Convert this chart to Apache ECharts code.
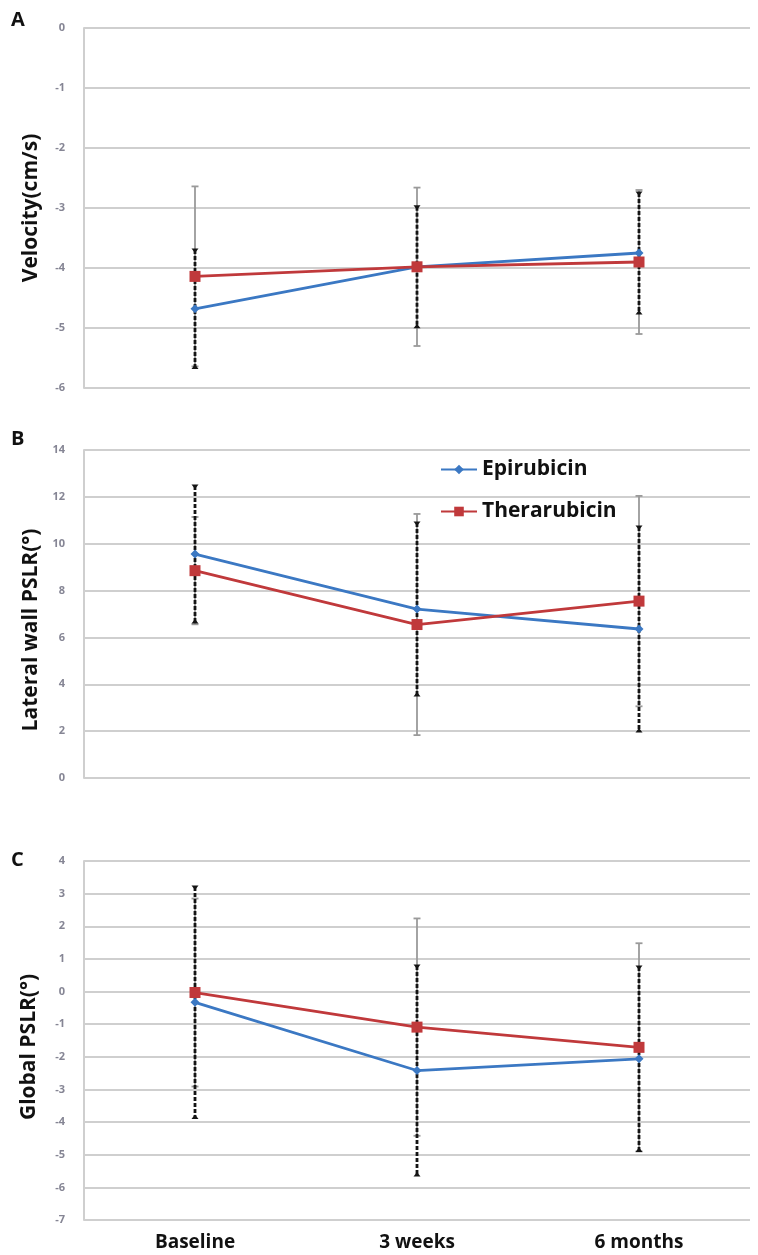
<!DOCTYPE html>
<html>
<head>
<meta charset="utf-8">
<script src="https://cdn.jsdelivr.net/npm/echarts@6/dist/echarts.min.js"></script>
<style>
html,body{margin:0;padding:0;background:#fff;}
#chart{width:758px;height:1255px;}
</style>
</head>
<body>
<div id="chart"></div>
<script>
// ---------- data ----------
const categories = ['Baseline', '3 weeks', '6 months'];
const seriesNames = ['Epirubicin', 'Therarubicin'];
const panelLetters = ['A', 'B', 'C'];
const yNames = ['Velocity(cm/s)', 'Lateral wall PSLR(°)', 'Global PSLR(°)'];

// Panel A: Velocity (cm/s)  [min, max, interval]
const velTicks = [-6, 0, 1];
const velEpi = [-4.68, -3.98, -3.75];
const velEpiSD = [0.98, 1.00, 1.00];
const velThe = [-4.14, -3.98, -3.90];
const velTheSD = [1.50, 1.32, 1.20];

// Panel B: Lateral wall PSLR (°)
const latTicks = [0, 14, 2];
const latEpi = [9.56, 7.21, 6.36];
const latEpiSD = [2.90, 3.67, 4.35];
const latThe = [8.85, 6.55, 7.55];
const latTheSD = [2.29, 4.72, 4.49];

// Panel C: Global PSLR (°)
const gloTicks = [-7, 4, 1];
const gloEpi = [-0.33, -2.42, -2.06];
const gloEpiSD = [3.53, 3.20, 2.81];
const gloThe = [-0.03, -1.09, -1.71];
const gloTheSD = [2.88, 3.33, 3.19];

// ---------- rendering ----------
const FONT = '"Open Sans"';
const BLUE = '#3b78c3';
const RED = '#c0393b';
const GRID_COLOR = '#cfcfcf';

const chart = echarts.init(document.getElementById('chart'), null, {renderer: 'canvas'});

function errData(mean, sd) {
  return mean.map((m, i) => [i, m - sd[i], m + sd[i]]);
}

function greyBar(params, api) {
  const x = api.value(0);
  const lo = api.coord([x, api.value(1)]);
  const hi = api.coord([x, api.value(2)]);
  const c = '#9a9a9a';
  return {
    type: 'group',
    children: [
      {type: 'line', shape: {x1: hi[0], y1: hi[1], x2: lo[0], y2: lo[1]}, style: {stroke: c, lineWidth: 1.8}},
      {type: 'line', shape: {x1: hi[0] - 3.5, y1: hi[1], x2: hi[0] + 3.5, y2: hi[1]}, style: {stroke: c, lineWidth: 1.8}},
      {type: 'line', shape: {x1: lo[0] - 3.5, y1: lo[1], x2: lo[0] + 3.5, y2: lo[1]}, style: {stroke: c, lineWidth: 1.8}}
    ]
  };
}

function blackBar(params, api) {
  const x = api.value(0);
  const lo = api.coord([x, api.value(1)]);
  const hi = api.coord([x, api.value(2)]);
  const c = '#141414';
  return {
    type: 'group',
    children: [
      {type: 'line', shape: {x1: hi[0], y1: hi[1], x2: lo[0], y2: lo[1]}, style: {stroke: c, lineWidth: 2.8, lineDash: [4, 2]}},
      {type: 'polygon', shape: {points: [[hi[0] - 3.5, hi[1] - 1.5], [hi[0] + 3.5, hi[1] - 1.5], [hi[0], hi[1] + 3]]}, style: {fill: c}},
      {type: 'polygon', shape: {points: [[lo[0] - 3.5, lo[1] + 1.5], [lo[0] + 3.5, lo[1] + 1.5], [lo[0], lo[1] - 3]]}, style: {fill: c}}
    ]
  };
}

const grids = [
  {left: 84, top: 28, width: 666, height: 360},
  {left: 84, top: 450, width: 666, height: 328},
  {left: 84, top: 861, width: 666, height: 359}
];

const yTicks = [velTicks, latTicks, gloTicks];
const yNamePos = [[31, 208], [31, 630], [29, 1047]];
const letterPos = [[11, 10], [11, 429], [11, 850]];

const xAxes = grids.map((g, i) => ({
  type: 'category',
  gridIndex: i,
  data: categories,
  boundaryGap: true,
  axisLine: {show: false},
  axisTick: {show: false},
  axisLabel: {
    show: i === 2,
    margin: 13,
    fontFamily: FONT,
    fontWeight: 'bold',
    fontSize: 19,
    color: '#111'
  },
  splitLine: {show: false}
}));

const yAxes = grids.map((g, i) => ({
  type: 'value',
  gridIndex: i,
  min: yTicks[i][0],
  max: yTicks[i][1],
  interval: yTicks[i][2],
  axisLine: {show: true, lineStyle: {color: GRID_COLOR, width: 2}},
  axisTick: {show: false},
  axisLabel: {
    margin: 19,
    fontFamily: FONT,
    fontWeight: 'bold',
    fontSize: 11,
    color: '#858594'
  },
  splitLine: {show: true, lineStyle: {color: GRID_COLOR, width: 2}}
}));

const panels = [
  [velEpi, velEpiSD, velThe, velTheSD],
  [latEpi, latEpiSD, latThe, latTheSD],
  [gloEpi, gloEpiSD, gloThe, gloTheSD]
];

const series = [];
panels.forEach((p, i) => {
  const [epi, epiSD, the, theSD] = p;
  series.push({
    type: 'custom', name: 'errThe' + i, xAxisIndex: i, yAxisIndex: i,
    renderItem: greyBar, data: errData(the, theSD),
    encode: {x: 0, y: [1, 2]}, z: 2, silent: true
  });
  series.push({
    type: 'custom', name: 'errEpi' + i, xAxisIndex: i, yAxisIndex: i,
    renderItem: blackBar, data: errData(epi, epiSD),
    encode: {x: 0, y: [1, 2]}, z: 3, silent: true
  });
  series.push({
    type: 'line', name: seriesNames[0], xAxisIndex: i, yAxisIndex: i,
    data: epi, symbol: 'diamond', symbolSize: 9,
    lineStyle: {color: BLUE, width: 2.8}, itemStyle: {color: BLUE},
    z: 5, animation: false
  });
  series.push({
    type: 'line', name: seriesNames[1], xAxisIndex: i, yAxisIndex: i,
    data: the, symbol: 'rect', symbolSize: 11,
    lineStyle: {color: RED, width: 2.8}, itemStyle: {color: RED},
    z: 6, animation: false
  });
});

const graphics = [];
panelLetters.forEach((t, i) => {
  graphics.push({type: 'text', x: letterPos[i][0], y: letterPos[i][1],
    style: {text: t, font: 'bold 20px ' + FONT, fill: '#111'}});
});
yNames.forEach((t, i) => {
  graphics.push({type: 'text', x: yNamePos[i][0], y: yNamePos[i][1], rotation: Math.PI / 2,
    style: {text: t, font: 'bold 21px ' + FONT, fill: '#111', align: 'center', verticalAlign: 'middle'}});
});

const option = {
  backgroundColor: '#fff',
  animation: false,
  grid: grids,
  xAxis: xAxes,
  yAxis: yAxes,
  legend: {
    data: seriesNames,
    orient: 'vertical',
    left: 435,
    top: 454,
    itemWidth: 36,
    itemHeight: 12,
    itemGap: 21,
    textStyle: {fontFamily: FONT, fontWeight: 'bold', fontSize: 21, color: '#111'}
  },
  graphic: graphics,
  series: series
};

chart.setOption(option);
</script>
</body>
</html>
